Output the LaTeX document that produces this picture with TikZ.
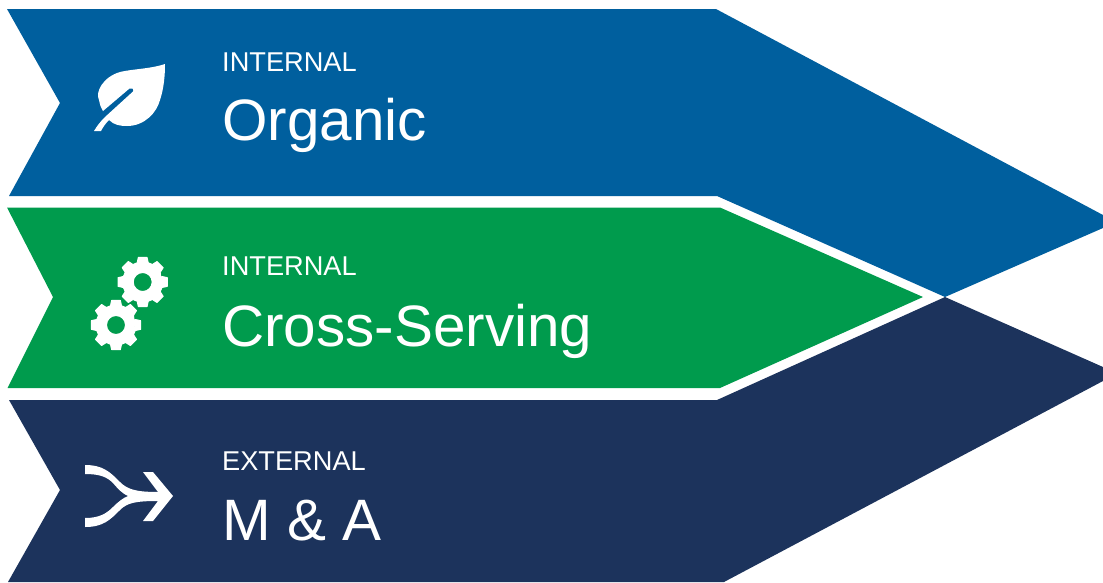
\documentclass[tikz,border=0pt]{standalone}
\usepackage{fontspec}
\setmainfont{Liberation Sans}
\definecolor{cblue}{HTML}{005F9E}
\definecolor{cgreen}{HTML}{009B4D}
\definecolor{cnavy}{HTML}{1C335C}
\tikzset{x=1pt,y=-1pt,
 small/.style={text=white,anchor=base west,inner sep=0pt,font=\fontsize{27.2}{30}\selectfont},
 big/.style={text=white,anchor=base west,inner sep=0pt,font=\fontsize{58.4}{60}\selectfont},
 ico/.style={fill=white,draw=none}}
\newcommand{\gearicon}[2]{%
 \filldraw[white,even odd rule,line width=1pt,line join=round,shift={(#1,#2)}] (0,0) circle[radius=9.5]
 (16:20) \foreach \a in {0,45,...,315}{ -- (\a-16:20) -- (\a-10:25) -- (\a+10:25) -- (\a+16:20)} -- cycle;}
\begin{document}
\begin{tikzpicture}
\useasboundingbox (0,0) rectangle (1103,582);
\fill[white] (0,0) rectangle (1103,582);
\fill[cblue] (7,9) -- (716,9) -- (1103,215) -- (1103,228) -- (945,297) -- (717,196) -- (9,196) -- (60,103) -- cycle;
\fill[cgreen] (7,207.5) -- (720,207.5) -- (923,297) -- (720,388) -- (7.5,388) -- (53,297) -- cycle;
\fill[cnavy] (9,400) -- (717,400) -- (945,297) -- (1103,367) -- (1103,381) -- (724,582) -- (8,582) -- (60,490) -- cycle;
% leaf
\fill[ico] (165,64) .. controls (150,69) and (132,69) .. (120,72)
 .. controls (103,77) and (95,92) .. (99,100)
 .. controls (100,105) and (101,108) .. (103,111)
 -- (129.5,88.5) .. controls (131.5,87) and (134.5,89.5) .. (133,91.5)
 -- (105,117) .. controls (100,122) and (97,126) .. (94,131)
 -- (101,131) .. controls (103,127) and (106,123) .. (109,120)
 .. controls (114,125) and (120,126) .. (127,126)
 .. controls (145,126) and (157,112) .. (160,100)
 .. controls (164,88) and (165,75) .. (165,64) -- cycle;
% gears
\gearicon{142.7}{282}
\gearicon{116}{325}
% merge icon
\fill[ico] (85,465) .. controls (103,465) and (110,472) .. (120,482)
 .. controls (127,489) and (135,492) .. (158,492)
 -- (143,472) -- (153,472) -- (173,496) -- (153,521) -- (143,521) -- (158,501)
 .. controls (135,501) and (127,503) .. (120,510)
 .. controls (110,520) and (103,527) .. (85,527)
 -- (85,518) .. controls (100,518) and (107,513) .. (113,507)
 .. controls (118,502) and (123,498) .. (128,496)
 .. controls (123,494) and (118,489) .. (113,483)
 .. controls (107,477) and (100,474) .. (85,474) -- cycle;
% text
\node[small] (t1) at (222,71) {INTERNAL};
\node[big] (o) at (222,140) {Organic};
\node[small] (t2) at (222,275) {INTERNAL};
\node[big] (c) at (222,346) {Cross-Serving};
\node[small] (t3) at (222,470) {EXTERNAL};
\node[big] (m) at (222,540) {M \& A};
\end{tikzpicture}
\end{document}
